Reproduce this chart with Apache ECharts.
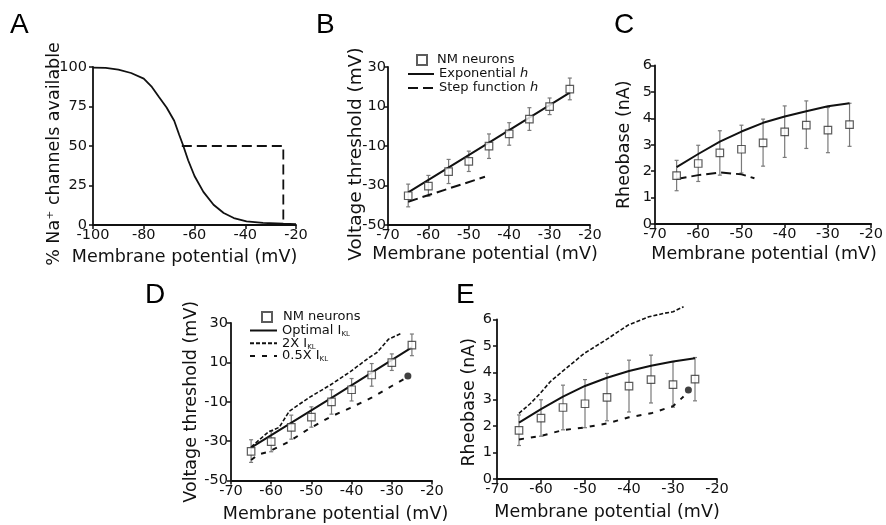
<!DOCTYPE html>
<html><head><meta charset="utf-8">
<script src="https://cdn.jsdelivr.net/npm/echarts@6/dist/echarts.min.js"></script>
<style>html,body{margin:0;padding:0;background:#fff}#c{width:886px;height:525px}</style>
</head><body><div id="c"></div>
<script>
// ---------- DATA ----------
// Panel A
const aVolt  = [-100,-95,-90,-85,-80,-77,-74,-71,-68,-66,-64.5,-62.5,-60,-56.5,-52.5,-48.5,-44.5,-39.5,-33,-25,-20];
const aAvail = [99.6,99.4,98.3,96.2,92.6,87.8,81,74.4,66,57,50.5,41,31,21,12.8,7.6,4.4,2.3,1.3,0.8,0.6];
const aGuideV = [-65,-25,-25];
const aGuideP = [50,50,0];
// NM neurons (experimental), shared by B/D and C/E
const nmVolt = [-65,-60,-55,-50,-45,-40,-35,-30,-25];
const nmThr     = [-35.2,-30.3,-23,-17.8,-10.1,-3.9,3.6,9.9,18.8];
const nmThrLow  = [-40.8,-35.4,-29,-22.9,-16.3,-9.6,-2.1,5.9,13.4];
const nmThrHigh = [-29.3,-24.9,-16.8,-12.6,-3.9,1.8,9.4,14.3,24.4];
const nmRheo     = [1.83,2.29,2.69,2.83,3.07,3.49,3.74,3.55,3.76];
const nmRheoLow  = [1.26,1.61,1.85,1.93,2.19,2.52,2.86,2.70,2.94];
const nmRheoHigh = [2.41,2.98,3.53,3.74,3.97,4.47,4.66,4.41,4.57];
// Panel B
const bExpV = [-65,-45,-25];
const bExpThr = [-33.5,-8.3,17];
const bStepV = [-65,-46];
const bStepThr = [-38.2,-25.6];
// Panel C
const cExpRheo = [2.15,2.65,3.12,3.5,3.83,4.07,4.27,4.46,4.57];
const cStepV = [-65,-60,-55,-50,-47];
const cStepRheo = [1.70,1.85,1.95,1.88,1.73];
// Panel D
const dOptV = [-65,-45,-25];
const dOptThr = [-33.3,-8,17.6];
const dTwoV = [-65,-60.7,-58,-55.5,-50.5,-45.3,-40.3,-35.6,-33.7,-30.8,-27.5];
const dTwoThr = [-33,-25.3,-23,-14.8,-7.8,-1.5,5.3,12.5,15,21.8,24.9];
const dHalfV = [-65,-63.2,-60.7,-55.7,-50.5,-45.3,-40.3,-34.9,-30,-26.6];
const dHalfThr = [-39.6,-36.7,-35.5,-30.4,-23.6,-17.7,-13.1,-7.8,-2,1.9];
const dDot = [-26,3.1];
// Panel E
const eOptRheo = [2.12,2.63,3.1,3.5,3.81,4.06,4.26,4.42,4.54];
const eTwoV = [-65,-62.4,-60.2,-57.9,-55.2,-50.2,-45.1,-40.2,-35.5,-32.1,-30,-27.6];
const eTwoRheo = [2.47,2.84,3.22,3.66,4.04,4.72,5.25,5.79,6.1,6.23,6.29,6.48];
const eHalfV = [-65,-60,-55,-50,-45,-40,-35,-30,-27.6];
const eHalfRheo = [1.49,1.62,1.84,1.94,2.09,2.32,2.47,2.74,3.1];
const eDot = [-26.5,3.35];
// Tick settings
const xTicksA = {min:-100,max:-20,interval:20};
const xTicksV = {min:-70,max:-20,interval:10};
const yTicksA = {min:0,max:100,interval:25};
const yTicksThr = {min:-50,max:30,interval:20};
const yTicksRheo = {min:0,max:6,interval:1};

// ---------- HELPERS ----------
const FONT = 'DejaVu Sans';
const pair = (xs, ys) => xs.map((x,i)=>[x, ys[i]]);
const grids = [
  {left:93,  top:67,    width:203, height:158},
  {left:388, top:67,    width:202, height:158},
  {left:655, top:65.5,  width:220, height:158.5},
  {left:231, top:323,   width:201, height:157.5},
  {left:497, top:319.5, width:220, height:159.5}
];
function xAx(i, t, shift, gap){
  return Object.assign({type:'value', gridIndex:i, name:'Membrane potential (mV)', nameLocation:'middle', nameGap:gap,
    nameMoveOverlap:false,
    nameTextStyle:{fontFamily:FONT,fontSize:17.5,color:'#111',padding: shift<0?[0,-2*shift,0,0]:[0,0,0,2*shift]},
    axisLine:{onZero:false,lineStyle:{color:'#111',width:1.8}},
    axisTick:{show:true,length:4,lineStyle:{color:'#111',width:1.5}},
    axisLabel:{fontFamily:FONT,fontSize:14.5,color:'#111',margin:3},
    splitLine:{show:false}}, t);
}
function yAx(i, t, name, shift, gap, fs, lm){
  return Object.assign({type:'value', gridIndex:i, name:name, nameLocation:'middle', nameGap:gap,
    nameMoveOverlap:false,
    nameTextStyle:{fontFamily:FONT,fontSize:fs,color:'#111',padding: shift>0?[0,2*shift,0,0]:[0,0,0,-2*shift]},
    axisLine:{onZero:false,lineStyle:{color:'#111',width:1.8}},
    axisTick:{show:true,length:4,lineStyle:{color:'#111',width:1.5}},
    axisLabel:{fontFamily:FONT,fontSize:14.5,color:'#111',margin:lm},
    splitLine:{show:false}}, t);
}
function errBars(i, lo, hi){
  return {type:'custom', xAxisIndex:i, yAxisIndex:i, z:1, silent:true,
    data: nmVolt.map((v,k)=>[v, lo[k], hi[k]]),
    renderItem:function(p, api){
      const a = api.coord([api.value(0), api.value(1)]);
      const b = api.coord([api.value(0), api.value(2)]);
      const st = {stroke:'#7a7a7a', lineWidth:1.2};
      return {type:'group', children:[
        {type:'line', shape:{x1:a[0],y1:a[1],x2:b[0],y2:b[1]}, style:st},
        {type:'line', shape:{x1:a[0]-2,y1:a[1],x2:a[0]+2,y2:a[1]}, style:st},
        {type:'line', shape:{x1:b[0]-2,y1:b[1],x2:b[0]+2,y2:b[1]}, style:st}
      ]};
    }};
}
function squares(i, vals){
  return {type:'scatter', name:'NM neurons', xAxisIndex:i, yAxisIndex:i, z:4, symbol:'rect', symbolSize:7.5,
    itemStyle:{color:'#fff', borderColor:'#333', borderWidth:1.2}, data: pair(nmVolt, vals)};
}
function line(i, name, xs, ys, w, dash, z){
  return {type:'line', name:name, xAxisIndex:i, yAxisIndex:i, z:z||3, symbol:'none', clip:false, smooth:false,
    itemStyle:{color:'#111', opacity:0},
    lineStyle:{color:'#111', width:w, type:dash||'solid'}, data: pair(xs, ys)};
}
function dot(i, pt){
  return {type:'scatter', name:'end point', xAxisIndex:i, yAxisIndex:i, z:4, symbol:'circle', symbolSize:7,
    itemStyle:{color:'#111'}, data:[pt]};
}
const legTxt = {fontFamily:FONT, fontSize:13, color:'#111', lineHeight:14,
  rich:{i:{fontFamily:FONT,fontSize:13,fontStyle:'italic',color:'#111'},
        s:{fontFamily:FONT,fontSize:7,color:'#111',verticalAlign:'bottom',lineHeight:12}}};
const legFmt = n => ({'Exponential h':'Exponential {i|h}','Step function h':'Step function {i|h}',
  'Optimal IKL':'Optimal I{s|KL}','2X IKL':'2X I{s|KL}','0.5X IKL':'0.5X I{s|KL}'}[n] || n);

const option = {
  animation:false,
  backgroundColor:'#fff',
  grid: grids,
  xAxis:[
    xAx(0, xTicksA, -10, 23), xAx(1, xTicksV, -4, 20), xAx(2, xTicksV, 1, 21),
    xAx(3, xTicksV, 4, 25), xAx(4, xTicksV, 0, 24)
  ],
  yAxis:[
    yAx(0, yTicksA, '% Na\u207A channels available', 8, 30, 17.5, 6),
    yAx(1, yTicksThr, 'Voltage threshold (mV)', 8, 22, 18.5, 2),
    yAx(2, yTicksRheo, 'Rheobase (nA)', 0, 22, 17.5, 3),
    yAx(3, yTicksThr, 'Voltage threshold (mV)', 0, 31, 17.5, 3),
    yAx(4, yTicksRheo, 'Rheobase (nA)', 3, 19, 17.5, 5)
  ],
  legend:[
    {data:['NM neurons'], left:416, top:53, padding:0, itemWidth:10, itemHeight:10, selectedMode:false, textStyle:Object.assign({},legTxt,{padding:[0,0,0,5]})},
    {data:['Exponential h','Step function h'], orient:'vertical', left:407, top:67, padding:0, itemWidth:26, itemHeight:10, itemGap:0, selectedMode:false, formatter:legFmt, textStyle:legTxt, itemStyle:{opacity:0}},
    {data:['NM neurons'], left:261, top:310, padding:0, itemWidth:10, itemHeight:10, selectedMode:false, textStyle:Object.assign({},legTxt,{padding:[0,0,0,6]})},
    {data:['Optimal IKL','2X IKL','0.5X IKL'], orient:'vertical', left:249, top:323.5, padding:0, itemWidth:27, itemHeight:10, itemGap:-1.2, selectedMode:false, formatter:legFmt, textStyle:legTxt, itemStyle:{opacity:0}}
  ],
  graphic:[
    {type:'text', left:10, top:11, style:{text:'A', font:'28px "Liberation Sans"', fill:'#000'}},
    {type:'text', left:316, top:11, style:{text:'B', font:'28px "Liberation Sans"', fill:'#000'}},
    {type:'text', left:614, top:11, style:{text:'C', font:'28px "Liberation Sans"', fill:'#000'}},
    {type:'text', left:145, top:281, style:{text:'D', font:'28px "Liberation Sans"', fill:'#000'}},
    {type:'text', left:456, top:281, style:{text:'E', font:'28px "Liberation Sans"', fill:'#000'}}
  ],
  series:[
    // A
    line(0, 'Na availability', aVolt, aAvail, 1.8),
    line(0, 'Half availability', aGuideV, aGuideP, 1.8, [10,5]),
    // B
    errBars(1, nmThrLow, nmThrHigh),
    squares(1, nmThr),
    line(1, 'Exponential h', bExpV, bExpThr, 2),
    line(1, 'Step function h', bStepV, bStepThr, 2, [10,5]),
    // C
    errBars(2, nmRheoLow, nmRheoHigh),
    squares(2, nmRheo),
    line(2, 'Exponential h', nmVolt, cExpRheo, 2),
    line(2, 'Step function h', cStepV, cStepRheo, 2, [10,5]),
    // D
    errBars(3, nmThrLow, nmThrHigh),
    squares(3, nmThr),
    line(3, 'Optimal IKL', dOptV, dOptThr, 2),
    line(3, '2X IKL', dTwoV, dTwoThr, 1.6, [4,2]),
    line(3, '0.5X IKL', dHalfV, dHalfThr, 2, [5,7]),
    dot(3, dDot),
    // E
    errBars(4, nmRheoLow, nmRheoHigh),
    squares(4, nmRheo),
    line(4, 'Optimal IKL', nmVolt, eOptRheo, 2),
    line(4, '2X IKL', eTwoV, eTwoRheo, 1.6, [4,2]),
    line(4, '0.5X IKL', eHalfV, eHalfRheo, 2, [5,7]),
    dot(4, eDot)
  ]
};
const chart = echarts.init(document.getElementById('c'), null, {renderer:'canvas'});
chart.setOption(option);
</script>
</body></html>
